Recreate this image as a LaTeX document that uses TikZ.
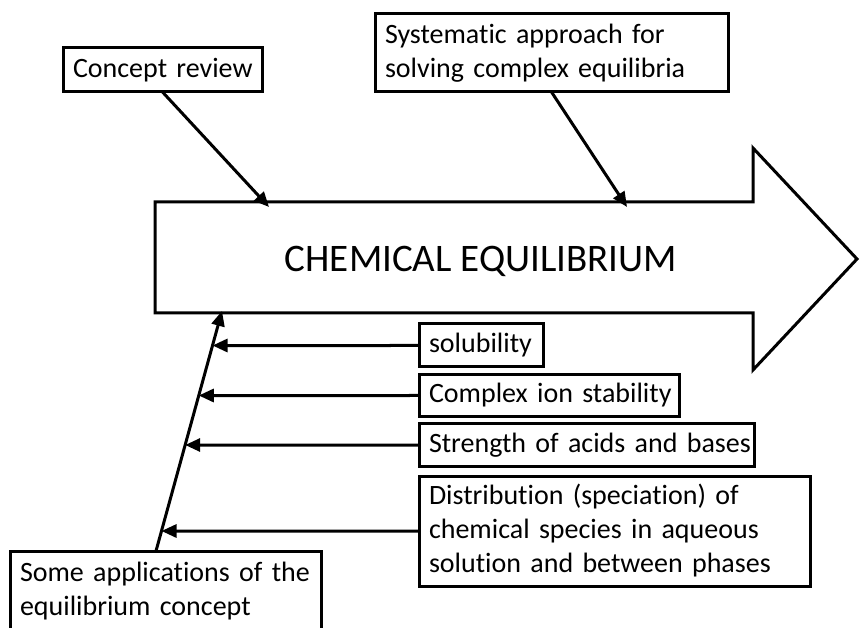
\documentclass[tikz,border=0pt]{standalone}
\usepackage{fontspec}
\setmainfont{Carlito}[Ligatures=NoCommon]
\usetikzlibrary{arrows.meta}
\begin{document}
\begin{tikzpicture}[x=1pt,y=-1pt,
  box/.style={draw, line width=3pt, rectangle, anchor=north west,
    inner xsep=10pt, inner ysep=0pt, outer sep=0pt, align=left,
    font=\fontsize{28}{34}\selectfont},
  link/.style={line width=3pt, -{Triangle[length=15pt,width=13pt]}},
  bigarrow/.style={draw, line width=3pt, line join=miter},
]
\useasboundingbox (0,0) rectangle (860,628);

% the main block arrow
\draw[bigarrow] (155,202) -- (753,202) -- (753,148) -- (857,259)
  -- (753,370) -- (753,313) -- (155,313) -- cycle;
\node[minimum width=598pt, minimum height=111pt, inner sep=0pt, outer sep=0pt]
  (shaft) at (454,257.5) {};
\node[font=\fontsize{39}{46}\selectfont, inner sep=0pt] (eq) at (481,261)
  {CHEMICAL EQUILIBRIUM};

% boxes above
\node[box, minimum width=199pt, minimum height=44pt, text width=179pt]
  (cr) at (63,48) {\mbox{Concept review}};
\node[box, minimum width=353pt, minimum height=78pt, text width=333pt]
  (sys) at (375,14) {\mbox{Systematic approach for}\\\mbox{solving complex equilibria}};

% boxes below
\node[box, minimum width=124pt, minimum height=43pt, text width=104pt]
  (sol) at (419,324) {\mbox{solubility}};
\node[box, minimum width=260pt, minimum height=42pt, text width=240pt]
  (cis) at (419,374.5) {\mbox{Complex ion stability}};
\node[box, minimum width=335pt, minimum height=42pt, text width=315pt]
  (sab) at (419,424) {\mbox{Strength of acids and bases}};
\node[box, minimum width=391pt, minimum height=110pt, text width=371pt]
  (dist) at (419,476) {\mbox{Distribution (speciation) of}\\\mbox{chemical species in aqueous}\\\mbox{solution and between phases}};
\node[box, minimum width=311pt, minimum height=80pt, text width=291pt]
  (apps) at (10,551) {\mbox{Some applications of the}\\\mbox{equilibrium concept}};

% connector end points
\coordinate (crEnd) at (269,207);
\coordinate (sysEnd) at (627,207);
\coordinate (aFoot) at ([xshift=-9.5pt]apps.north);
\coordinate (aHead) at (222,311);

% connectors
\draw[link] (cr.south) -- (crEnd);
\draw[link] (sys.south) -- (sysEnd);
\draw[link] (aFoot) -- (aHead);
\draw[link] (sol.west) -- (intersection of sol.west--sol.east and aFoot--aHead);
\draw[link] (cis.west) -- (intersection of cis.west--cis.east and aFoot--aHead);
\draw[link] (sab.west) -- (intersection of sab.west--sab.east and aFoot--aHead);
\draw[link] (dist.west) -- (intersection of dist.west--dist.east and aFoot--aHead);
\end{tikzpicture}
\end{document}
